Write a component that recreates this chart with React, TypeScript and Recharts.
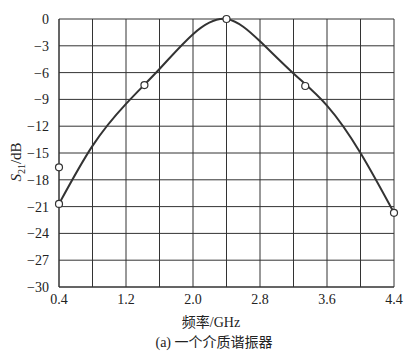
import { ComposedChart, Line, Scatter, CartesianGrid, XAxis, YAxis } from "recharts";

const freqs = [0.4, 0.8, 1.2, 1.6, 2.0, 2.4, 2.8, 3.2, 3.6, 4.0, 4.4];
const s21 = [-20.7, -14.2, -9.5, -5.6, -1.7, 0, -2.5, -6.1, -9.7, -15, -21.7];

const markerFreqs = [0.4, 0.4, 1.42, 2.4, 3.34, 4.4];
const markerS21 = [-16.6, -20.7, -7.4, 0, -7.5, -21.7];

const xTicks = [0.4, 0.8, 1.2, 1.6, 2.0, 2.4, 2.8, 3.2, 3.6, 4.0, 4.4];
const xLabelled = [0.4, 1.2, 2.0, 2.8, 3.6, 4.4];
const yTicks = [0, -3, -6, -9, -12, -15, -18, -21, -24, -27, -30];

const ink = "#333";
const serif = "'Liberation Serif', 'DejaVu Serif', serif";
const cjk = "'Noto Sans CJK SC', sans-serif";

const curve = freqs.map((f, i) => ({ f, v: s21[i] }));
const markers = markerFreqs.map((f, i) => ({ f, v: markerS21[i] }));

function fmtX(v: number) {
  return xLabelled.some((t) => Math.abs(t - v) < 1e-6) ? v.toFixed(1) : "";
}

function fmtY(v: number) {
  return v < 0 ? `\u2212${Math.abs(v)}` : `${v}`;
}

const captionStyle = {
  position: "absolute" as const,
  left: 0,
  lineHeight: "20px",
  textAlign: "center" as const,
  fontSize: 14,
  color: "#222",
  whiteSpace: "nowrap" as const,
};

export default function App() {
  return (
    <div style={{ position: "absolute", left: 0, top: 0, width: 415, height: 352, background: "#fff", overflow: "hidden" }}>
      <ComposedChart width={415} height={352} margin={{ top: 19, right: 21, left: 0, bottom: 0 }}>
        <CartesianGrid stroke={ink} strokeWidth={1} horizontalValues={yTicks} verticalValues={xTicks} />
        <XAxis
          type="number"
          dataKey="f"
          domain={[0.4, 4.4]}
          ticks={xTicks}
          interval={0}
          tickFormatter={fmtX}
          tickLine={false}
          tickMargin={1}
          height={65}
          axisLine={{ stroke: ink }}
          tick={{ fill: "#222", fontSize: 14, fontFamily: serif }}
        />
        <YAxis
          type="number"
          dataKey="v"
          domain={[-30, 0]}
          ticks={yTicks}
          interval={0}
          tickFormatter={fmtY}
          tickLine={false}
          tickMargin={4}
          width={59}
          axisLine={{ stroke: ink }}
          tick={{ fill: "#222", fontSize: 14, fontFamily: serif }}
        />
        <Line
          data={curve}
          dataKey="v"
          type="natural"
          stroke={ink}
          strokeWidth={2}
          dot={false}
          isAnimationActive={false}
        />
        <Scatter
          data={markers}
          dataKey="v"
          fill="#fff"
          stroke={ink}
          strokeWidth={1.2}
          shape={(p: any) => <circle cx={p.cx} cy={p.cy} r={3.5} fill="#fff" stroke={ink} strokeWidth={1.2} />}
          isAnimationActive={false}
        />
      </ComposedChart>
      <div
        style={{
          position: "absolute",
          left: 19,
          top: 162,
          transform: "translate(-50%, -50%) rotate(-90deg)",
          fontFamily: serif,
          fontSize: 15,
          lineHeight: "18px",
          color: "#222",
          whiteSpace: "nowrap",
        }}
      >
        <i>S</i>
        <sub style={{ fontSize: 10 }}>21</sub>/dB
      </div>
      <div style={{ ...captionStyle, width: 422, top: 311 }}>
        <span style={{ fontFamily: cjk }}>频率</span>
        <span style={{ fontFamily: serif }}>/GHz</span>
      </div>
      <div style={{ ...captionStyle, width: 428, top: 331 }}>
        <span style={{ fontFamily: serif }}>(a) </span>
        <span style={{ fontFamily: cjk }}>一个介质谐振器</span>
      </div>
    </div>
  );
}
